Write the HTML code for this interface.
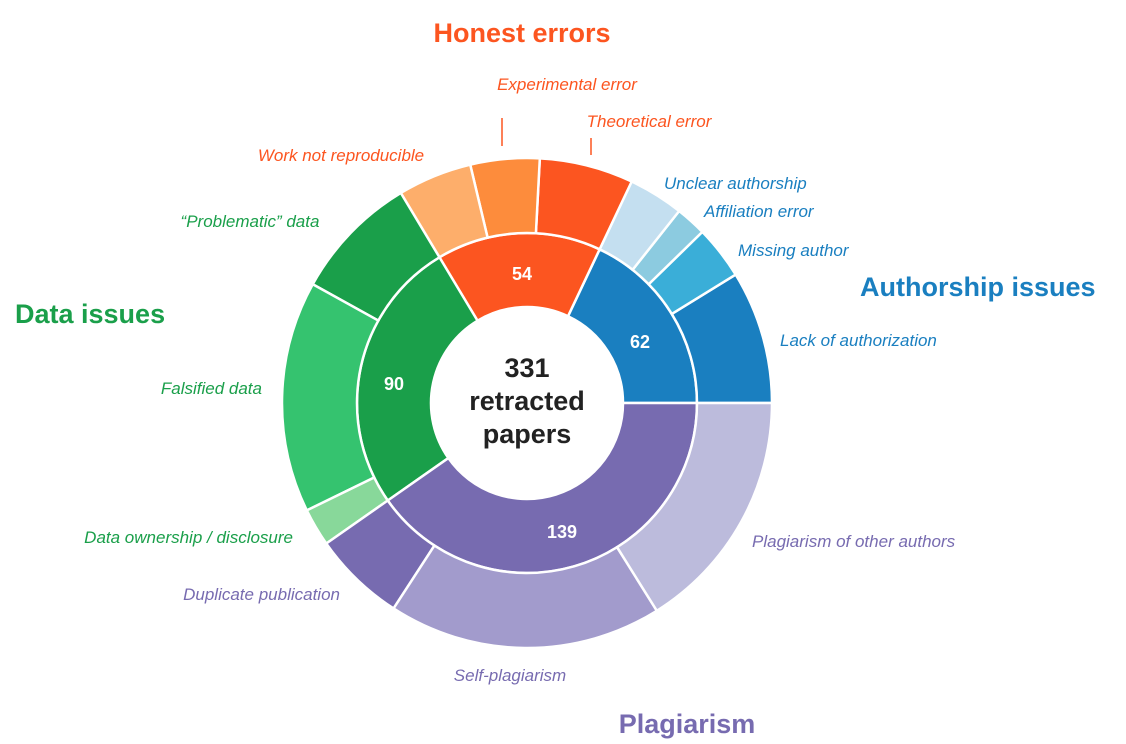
<!DOCTYPE html>
<html><head><meta charset="utf-8"><style>
html,body{margin:0;padding:0;background:#fff;}
svg{display:block;}
.l{font-family:"Liberation Sans Narrow","Liberation Sans",sans-serif;font-style:italic;font-size:17px;}
.h{font-family:"Liberation Sans",sans-serif;font-weight:bold;font-size:27px;}
.n{font-family:"Liberation Sans",sans-serif;font-weight:bold;font-size:18px;fill:#fff;text-anchor:middle;}
.c{font-family:"Liberation Sans",sans-serif;font-weight:bold;font-size:27px;fill:#222;text-anchor:middle;}
</style></head><body>
<svg id="s" width="1126" height="744" viewBox="0 0 1126 744" xmlns="http://www.w3.org/2000/svg">
<g id="arcs"></g>
<line x1="502" y1="118" x2="502" y2="146" stroke="#fc5520" stroke-width="1.5"/>
<line x1="591" y1="138" x2="591" y2="155" stroke="#fc5520" stroke-width="1.5"/>
<text class="h" x="522" y="42" text-anchor="middle" fill="#fc5520">Honest errors</text>
<text class="l" x="567" y="90" text-anchor="middle" fill="#fc5520">Experimental error</text>
<text class="l" x="649" y="127" text-anchor="middle" fill="#fc5520">Theoretical error</text>
<text class="l" x="341" y="161" text-anchor="middle" fill="#fc5520">Work not reproducible</text>
<text class="l" x="664" y="189" fill="#1a7fc0">Unclear authorship</text>
<text class="l" x="704" y="217" fill="#1a7fc0">Affiliation error</text>
<text class="l" x="738" y="256" fill="#1a7fc0">Missing author</text>
<text class="h" x="860" y="296" fill="#1a7fc0">Authorship issues</text>
<text class="l" x="780" y="346" fill="#1a7fc0">Lack of authorization</text>
<text class="l" x="250" y="227" text-anchor="middle" fill="#1a9f4a">“Problematic” data</text>
<text class="h" x="15" y="323" fill="#1a9f4a">Data issues</text>
<text class="l" x="262" y="394" text-anchor="end" fill="#1a9f4a">Falsified data</text>
<text class="l" x="293" y="543" text-anchor="end" fill="#1a9f4a">Data ownership / disclosure</text>
<text class="l" x="340" y="600" text-anchor="end" fill="#776bb0">Duplicate publication</text>
<text class="l" x="510" y="681" text-anchor="middle" fill="#776bb0">Self-plagiarism</text>
<text class="h" x="687" y="733" text-anchor="middle" fill="#776bb0">Plagiarism</text>
<text class="l" x="752" y="547" fill="#776bb0">Plagiarism of other authors</text>
<text class="n" x="522" y="280">54</text>
<text class="n" x="640" y="348">62</text>
<text class="n" x="394" y="390">90</text>
<text class="n" x="562" y="538">139</text>
<text class="c" x="527" y="377">331</text>
<text class="c" x="527" y="410">retracted</text>
<text class="c" x="527" y="443">papers</text>
</svg>
<script>
var cx=527,cy=403;
function arc(r0,r1,a0,a1,col){
 function p(r,a){var t=a*Math.PI/180;return (cx+r*Math.cos(t)).toFixed(2)+","+(cy-r*Math.sin(t)).toFixed(2);}
 var lg=(a1-a0)>180?1:0;
 var d="M"+p(r0,a0)+" L"+p(r1,a0)+" A"+r1+","+r1+" 0 "+lg+" 0 "+p(r1,a1)+" L"+p(r0,a1)+" A"+r0+","+r0+" 0 "+lg+" 1 "+p(r0,a0)+"Z";
 return '<path d="'+d+'" fill="'+col+'" stroke="#fff" stroke-width="2.5"/>';
}
var h="";
var inner=[[0,64.7,"#1a7fc0"],[64.7,121,"#fc5520"],[121,215,"#1a9f4a"],[215,360,"#776bb0"]];
inner.forEach(function(s){h+=arc(96,170,s[0],s[1],s[2]);});
var outer=[[0,31.6,"#1a7fc0"],[31.6,44.3,"#3aaed8"],[44.3,51.6,"#8ccbe0"],[51.6,64.7,"#c4dff0"],
[64.7,87,"#fc5520"],[87,103.4,"#fd8c3c"],[103.4,121,"#fdae6b"],
[121,151,"#1a9f4a"],[151,206,"#35c36f"],[206,215,"#88d89a"],
[215,237,"#776bb0"],[237,302,"#a29bcc"],[302,360,"#bcbbdc"]];
outer.forEach(function(s){h+=arc(170,245,s[0],s[1],s[2]);});
document.getElementById("arcs").innerHTML=h;
</script>
</body></html>
